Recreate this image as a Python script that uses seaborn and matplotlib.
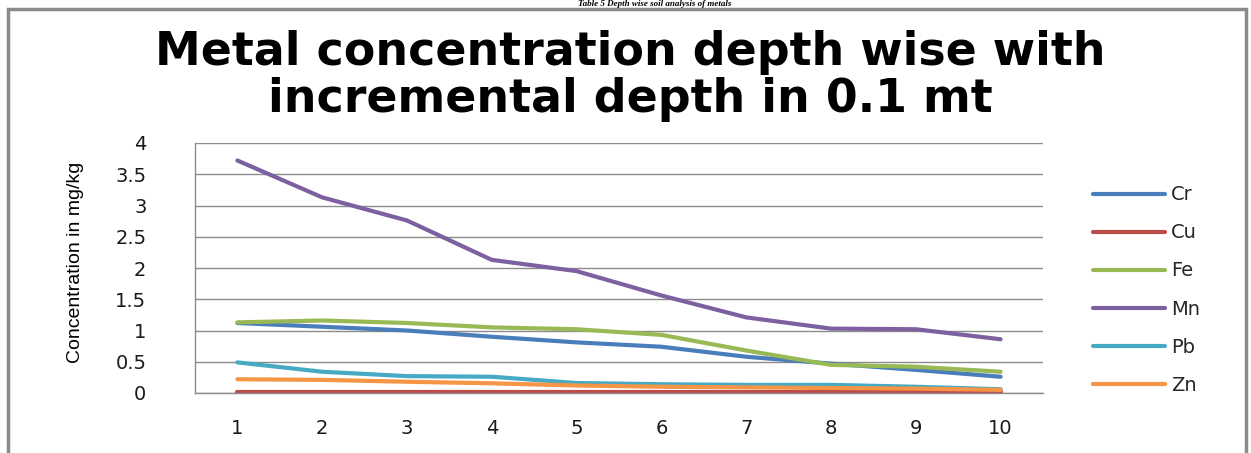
import matplotlib
matplotlib.use("Agg")
import matplotlib.pyplot as plt
from matplotlib.patches import Rectangle
import pandas as pd
import seaborn as sns

# Sampling depth index (each step is 0.1 m deeper)
depth = [1, 2, 3, 4, 5, 6, 7, 8, 9, 10]

# Metal concentrations in mg/kg at each depth
cr = [1.12, 1.06, 1.00, 0.90, 0.81, 0.74, 0.58, 0.47, 0.37, 0.26]
cu = [0.02, 0.02, 0.02, 0.02, 0.02, 0.02, 0.02, 0.02, 0.02, 0.02]
fe = [1.13, 1.16, 1.12, 1.05, 1.02, 0.93, 0.68, 0.45, 0.42, 0.34]
mn = [3.72, 3.13, 2.76, 2.13, 1.95, 1.56, 1.21, 1.03, 1.02, 0.86]
pb = [0.49, 0.34, 0.27, 0.26, 0.16, 0.14, 0.13, 0.13, 0.10, 0.06]
zn = [0.22, 0.21, 0.18, 0.155, 0.12, 0.10, 0.09, 0.08, 0.07, 0.05]

metals = ["Cr", "Cu", "Fe", "Mn", "Pb", "Zn"]
series = [cr, cu, fe, mn, pb, zn]
colors = ["#4A7EBB", "#BE4B48", "#98B954", "#7D60A0", "#46AAC5", "#F69545"]

y_ticks = [0, 0.5, 1, 1.5, 2, 2.5, 3, 3.5, 4]
y_tick_labels = ["0", "0.5", "1", "1.5", "2", "2.5", "3", "3.5", "4"]

df = pd.DataFrame(
    [(d, m, v) for m, vals in zip(metals, series) for d, v in zip(depth, vals)],
    columns=["depth", "metal", "value"],
)

sns.set_theme(style="white")
plt.rcParams["font.family"] = ["DejaVu Sans"]

W, H = 1251, 453
fig = plt.figure(figsize=(W / 100, H / 100), dpi=100)
fig.patch.set_facecolor("white")

# outer chart frame
frame_color = "#8A8A8A"
fig.add_artist(Rectangle((8 / W, -0.1), (1246 - 8) / W, (H - 9) / H + 0.1,
                         transform=fig.transFigure, fill=False,
                         edgecolor=frame_color, linewidth=2.5))

# caption above the chart frame
fig.text(655 / W, (H - 0.5) / H, "Table 5 Depth wise soil analysis of metals",
         ha="center", va="top", fontsize=6.5, fontweight="bold",
         fontstyle="italic", family=["Liberation Serif"], color="black")

# plot area
left, right, top, bottom = 195, 1043, 143, 393
ax = fig.add_axes([left / W, (H - bottom) / H, (right - left) / W, (bottom - top) / H])

sns.lineplot(data=df, x="depth", y="value", hue="metal", hue_order=metals,
             palette=dict(zip(metals, colors)), linewidth=3, ax=ax,
             legend=True, solid_capstyle="round")

ax.set_xlim(0.5, 10.5)
ax.set_ylim(0, 4)
ax.set_yticks(y_ticks)
ax.set_yticklabels(y_tick_labels)
ax.set_xticks(depth)
ax.set_xticklabels([str(d) for d in depth])
ax.yaxis.grid(True, color="#8C8C8C", linewidth=1.0)
ax.set_axisbelow(True)
ax.tick_params(axis="y", length=0, pad=35, labelsize=14, labelcolor="#1a1a1a")
ax.tick_params(axis="x", length=0, pad=19, labelsize=14, labelcolor="#1a1a1a")
for side in ["top", "right"]:
    ax.spines[side].set_visible(False)
for side in ["left", "bottom"]:
    ax.spines[side].set_color("#8C8C8C")
    ax.spines[side].set_linewidth(1.0)
ax.set_xlabel("")
ax.set_ylabel("")

# y axis title
fig.text(76 / W, (H - 262) / H, "Concentration in mg/kg", rotation=90,
         ha="center", va="center", fontsize=14,
         family=["Liberation Sans Narrow", "Liberation Sans"], color="black")

# chart title
fig.text(630 / W, (H - 76) / H,
         "Metal concentration depth wise with\nincremental depth in 0.1 mt",
         ha="center", va="center", fontsize=33, fontweight="bold",
         family=["DejaVu Sans"], linespacing=1.06, color="black")

# legend
handles, labels = ax.get_legend_handles_labels()
for h in handles:
    h.set_linewidth(3)
leg = ax.legend(handles, labels, loc="center left",
                bbox_to_anchor=(1093 / W, (H - 290) / H),
                bbox_transform=fig.transFigure, frameon=False,
                fontsize=14, handlelength=3.7, handletextpad=0.3,
                labelspacing=0.98, borderpad=0, borderaxespad=0)

fig.savefig("out.png", dpi=100)
